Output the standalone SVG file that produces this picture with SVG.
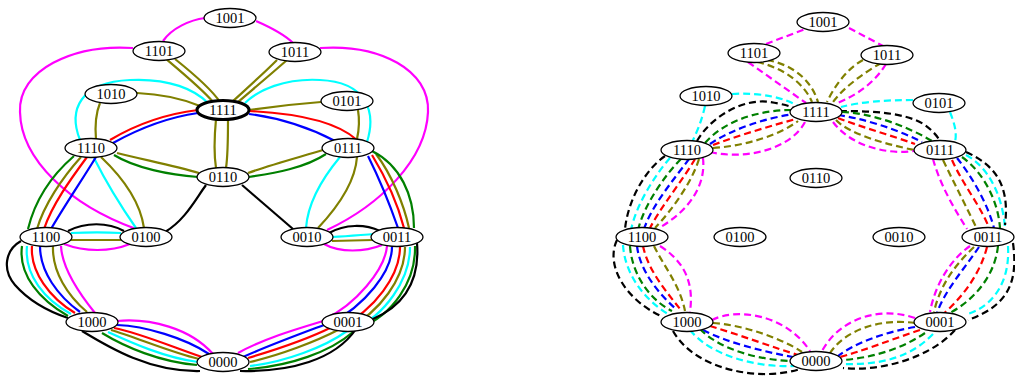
<svg xmlns="http://www.w3.org/2000/svg" width="1015" height="380" viewBox="0 0 1015 380">
<style>
.e{fill:none;stroke-width:2.2}
.d{stroke-dasharray:7,4}
.m{stroke:#ff00ff}.o{stroke:#808000}.r{stroke:#ff0000}.b{stroke:#0000ff}.g{stroke:#008000}.c{stroke:#00ffff}.k{stroke:#000000}
.n ellipse{fill:#ffffff;stroke:#000000;stroke-width:1.3}
.n text{font-family:"Liberation Serif","Times New Roman",serif;font-size:14.5px;text-anchor:middle;fill:#000000}
</style>
<rect width="1015" height="380" fill="#ffffff"/>
<g id="connectors-left" class="e">
<path class="m" d="M163,41 C172,28 190,20 205,18"/>
<path class="m" d="M256,21 C272,28 285,35 293,43"/>
<path class="m" d="M133,48 C73,44 18,70 20,112 C21,160 70,205 136,229"/>
<path class="m" d="M320,48 C380,44 430,70 428,112 C426,160 380,205 327,230"/>
<path class="m" d="M64,244 C85,252 110,252 130,244"/>
<path class="m" d="M324,244 C340,253 365,252 382,245"/>
<path class="m" d="M61,246 C62,268 78,292 95,313"/>
<path class="m" d="M117,321 C150,318 190,328 213,354"/>
<path class="m" d="M387,246 C385,270 355,305 325,319"/>
<path class="m" d="M323,321 C300,328 265,338 238,353"/>
<path class="o" d="M166,59 C185,75 203,90 213,102"/>
<path class="o" d="M175,59 C195,75 212,90 220,102"/>
<path class="o" d="M277,60 C262,75 245,90 232,102"/>
<path class="o" d="M287,60 C270,75 252,90 238,102"/>
<path class="o" d="M137,93 C160,94 183,99 200,106"/>
<path class="o" d="M321,102 C295,104 270,107 249,110"/>
<path class="o" d="M216,119 C214,140 214,155 216,168"/>
<path class="o" d="M228,119 C228,140 228,155 226,168"/>
<path class="o" d="M100,103 C95,115 95,128 96,140"/>
<path class="o" d="M358,110 C360,122 359,130 357,139"/>
<path class="o" d="M101,157 C120,175 140,200 144,228"/>
<path class="o" d="M357,157 C355,185 335,210 318,228"/>
<path class="o" d="M117,153 C145,160 175,166 199,173"/>
<path class="o" d="M323,150 C300,157 270,165 248,173"/>
<path class="g" d="M114,155 C135,168 170,175 198,177"/>
<path class="g" d="M326,154 C305,168 275,173 249,177"/>
<path class="c" d="M80,140 C68,110 80,82 130,80 C170,78 195,90 208,103"/>
<path class="c" d="M367,142 C377,110 365,82 320,80 C285,78 258,90 245,103"/>
<path class="c" d="M94,158 C105,180 120,205 136,228"/>
<path class="c" d="M340,157 C325,175 308,200 306,228"/>
<path class="r" d="M198,110 C165,114 135,125 110,140"/>
<path class="b" d="M198,113 C170,117 140,128 113,143"/>
<path class="r" d="M249,111 C290,113 335,120 357,140"/>
<path class="b" d="M249,114 C280,118 310,128 335,141"/>
<path class="g" d="M74,156 C52,175 35,200 28,229"/>
<path class="o" d="M81,157 C62,178 44,205 37,229"/>
<path class="r" d="M87,157 C70,180 52,205 44,229"/>
<path class="b" d="M96,157 C82,180 65,205 51,229"/>
<path class="b" d="M368,156 C380,180 390,205 398,228"/>
<path class="r" d="M372,155 C386,178 398,205 404,228"/>
<path class="o" d="M376,154 C392,175 404,205 409,228"/>
<path class="g" d="M372,151 C400,165 414,195 414,228"/>
<path class="k" d="M68,231 C85,222 108,222 124,231"/>
<path class="c" d="M71,233 C90,232 105,232 121,233"/>
<path class="o" d="M71,240 L121,240"/>
<path class="k" d="M329,233 C345,224 365,224 380,231"/>
<path class="c" d="M332,237 C350,236 360,235 374,234"/>
<path class="o" d="M332,241 L373,240"/>
<path class="k" d="M206,185 C195,200 185,220 165,232"/>
<path class="k" d="M242,185 L293,229"/>
<path class="k" d="M21,241 C5,250 2,270 15,285 C30,302 50,312 68,318"/>
<path class="g" d="M22,246 C18,275 40,300 68,316"/>
<path class="c" d="M27,246 C24,275 45,300 71,314"/>
<path class="r" d="M32,246 C30,272 50,298 75,313"/>
<path class="b" d="M40,246 C40,272 58,296 80,312"/>
<path class="o" d="M53,246 C52,272 68,296 87,312"/>
<path class="b" d="M117,325 C145,326 185,338 209,354"/>
<path class="r" d="M114,328 C140,333 175,348 202,357"/>
<path class="o" d="M111,330 C135,337 170,352 199,359"/>
<path class="c" d="M108,332 C130,342 165,358 198,362"/>
<path class="g" d="M102,333 C125,347 160,362 197,365"/>
<path class="k" d="M82,331 C110,348 150,372 200,371"/>
<path class="b" d="M392,247 C392,272 365,305 330,324"/>
<path class="r" d="M400,247 C400,275 375,310 340,327"/>
<path class="o" d="M405,247 C405,278 380,312 347,329"/>
<path class="c" d="M410,247 C410,280 385,315 353,330"/>
<path class="g" d="M415,246 C416,282 392,315 360,328"/>
<path class="k" d="M417,243 C420,280 405,305 373,319"/>
<path class="b" d="M324,325 C300,334 270,345 243,357"/>
<path class="r" d="M332,327 C310,338 275,350 248,358"/>
<path class="o" d="M340,329 C315,342 280,355 250,362"/>
<path class="c" d="M347,331 C325,347 285,362 250,366"/>
<path class="g" d="M353,332 C330,352 290,366 248,369"/>
<path class="k" d="M356,329 C335,360 290,372 240,371"/>
</g>
<g id="connectors-right" class="e d">
<path class="m" d="M766,44 L808,28"/>
<path class="m" d="M849,28 L883,46"/>
<path class="m" d="M748,62 L806,103"/>
<path class="m" d="M886,64 C875,82 858,95 835,104"/>
<path class="o" d="M757,62 C785,68 805,85 812,102"/>
<path class="o" d="M767,60 C795,65 812,82 818,102"/>
<path class="o" d="M863,60 C848,68 835,85 827,102"/>
<path class="o" d="M881,63 C865,72 843,88 833,102"/>
<path class="c" d="M732,94 C760,92 785,98 798,106"/>
<path class="c" d="M705,106 C702,120 697,132 692,142"/>
<path class="c" d="M913,100 C885,100 860,102 841,107"/>
<path class="c" d="M950,112 C955,125 957,133 955,142"/>
<path class="k" d="M697,141 C712,115 745,98 770,102 C782,104 790,106 794,108"/>
<path class="g" d="M705,143 C725,120 760,110 792,110"/>
<path class="b" d="M710,144 C730,130 765,118 794,114"/>
<path class="r" d="M713,145 C740,135 770,126 796,119"/>
<path class="o" d="M713,148 C745,146 780,135 798,121"/>
<path class="m" d="M710,152 C745,160 790,150 805,122"/>
<path class="k" d="M840,111 C870,111 905,112 925,125 C933,131 938,137 940,141"/>
<path class="g" d="M842,112 C870,113 905,125 932,141"/>
<path class="b" d="M838,115 C860,118 895,128 922,142"/>
<path class="r" d="M838,118 C855,125 890,135 915,144"/>
<path class="o" d="M836,120 C850,135 890,145 914,150"/>
<path class="m" d="M833,122 C850,145 885,155 914,151"/>
<path class="k" d="M665,156 C645,170 628,200 625,229"/>
<path class="c" d="M670,158 C655,175 636,205 631,230"/>
<path class="g" d="M681,159 C665,175 644,205 638,230"/>
<path class="b" d="M689,159 C675,178 652,205 644,229"/>
<path class="r" d="M695,159 C683,180 662,205 650,228"/>
<path class="o" d="M699,159 C692,182 672,210 655,228"/>
<path class="m" d="M703,158 C706,185 690,210 659,228"/>
<path class="k" d="M617,240 C605,265 625,300 663,317"/>
<path class="c" d="M623,245 C625,275 645,300 668,314"/>
<path class="g" d="M630,246 C632,275 650,300 672,311"/>
<path class="b" d="M637,246 C640,272 660,295 677,310"/>
<path class="r" d="M643,246 C648,270 665,290 680,309"/>
<path class="o" d="M654,246 C663,265 680,285 685,311"/>
<path class="m" d="M660,246 C690,265 693,290 690,312"/>
<path class="m" d="M712,320 C735,308 785,313 810,351"/>
<path class="o" d="M713,323 C745,325 785,340 802,352"/>
<path class="r" d="M710,326 C740,335 775,348 798,355"/>
<path class="b" d="M703,330 C725,342 765,352 793,357"/>
<path class="g" d="M700,329 C720,350 760,360 791,361"/>
<path class="c" d="M690,330 C710,355 755,368 796,366"/>
<path class="k" d="M673,331 C695,370 760,382 800,369"/>
<path class="m" d="M933,159 C940,185 955,210 967,229"/>
<path class="o" d="M943,160 C955,185 968,210 977,229"/>
<path class="r" d="M952,160 C963,185 982,208 989,228"/>
<path class="b" d="M957,158 C973,178 988,205 994,228"/>
<path class="g" d="M962,157 C983,172 998,200 1000,228"/>
<path class="c" d="M966,155 C985,165 1002,190 1005,228"/>
<path class="k" d="M966,152 C995,165 1010,185 1005,225"/>
<path class="m" d="M970,246 C950,260 935,285 930,312"/>
<path class="o" d="M974,247 C955,265 940,285 934,312"/>
<path class="b" d="M979,247 C965,268 945,290 937,313"/>
<path class="r" d="M987,247 C980,275 960,300 943,314"/>
<path class="g" d="M998,246 C995,275 975,300 948,314"/>
<path class="c" d="M1008,246 C1010,280 995,305 968,314"/>
<path class="k" d="M1013,243 C1018,280 1010,305 968,320"/>
<path class="m" d="M915,318 C880,306 840,318 822,351"/>
<path class="o" d="M915,323 C880,318 845,330 830,353"/>
<path class="b" d="M915,327 C885,332 855,343 838,356"/>
<path class="r" d="M920,330 C890,340 860,352 840,357"/>
<path class="g" d="M925,333 C900,350 870,358 843,360"/>
<path class="c" d="M933,334 C910,358 880,365 843,364"/>
<path class="k" d="M955,330 C930,358 880,372 843,368"/>
</g>
<g id="L1001" class="n"><ellipse cx="230" cy="18" rx="26" ry="9.5"/><text x="230" y="23">1001</text></g>
<g id="L1101" class="n"><ellipse cx="159" cy="51" rx="26" ry="9.5"/><text x="159" y="56">1101</text></g>
<g id="L1011" class="n"><ellipse cx="295" cy="52" rx="26" ry="9.5"/><text x="295" y="57">1011</text></g>
<g id="L1010" class="n"><ellipse cx="111" cy="94" rx="26" ry="9.5"/><text x="111" y="99">1010</text></g>
<g id="L1111" class="n"><ellipse cx="223" cy="110" rx="26" ry="9.5" style="stroke-width:3"/><text x="223" y="115">1111</text></g>
<g id="L0101" class="n"><ellipse cx="347" cy="101" rx="26" ry="9.5"/><text x="347" y="106">0101</text></g>
<g id="L1110" class="n"><ellipse cx="91" cy="148" rx="26" ry="9.5"/><text x="91" y="153">1110</text></g>
<g id="L0111" class="n"><ellipse cx="348" cy="148" rx="26" ry="9.5"/><text x="348" y="153">0111</text></g>
<g id="L0110" class="n"><ellipse cx="223" cy="177" rx="26" ry="9.5"/><text x="223" y="182">0110</text></g>
<g id="L1100" class="n"><ellipse cx="46" cy="237" rx="26" ry="9.5"/><text x="46" y="242">1100</text></g>
<g id="L0100" class="n"><ellipse cx="146" cy="237" rx="26" ry="9.5"/><text x="146" y="242">0100</text></g>
<g id="L0010" class="n"><ellipse cx="307" cy="237" rx="26" ry="9.5"/><text x="307" y="242">0010</text></g>
<g id="L0011" class="n"><ellipse cx="397" cy="237" rx="26" ry="9.5"/><text x="397" y="242">0011</text></g>
<g id="L1000" class="n"><ellipse cx="92" cy="322" rx="26" ry="9.5"/><text x="92" y="327">1000</text></g>
<g id="L0001" class="n"><ellipse cx="348" cy="322" rx="26" ry="9.5"/><text x="348" y="327">0001</text></g>
<g id="L0000" class="n"><ellipse cx="223" cy="362" rx="26" ry="9.5"/><text x="223" y="367">0000</text></g>
<g id="R1001" class="n"><ellipse cx="823" cy="22" rx="26" ry="9.5"/><text x="823" y="27">1001</text></g>
<g id="R1101" class="n"><ellipse cx="754" cy="53" rx="26" ry="9.5"/><text x="754" y="58">1101</text></g>
<g id="R1011" class="n"><ellipse cx="887" cy="55" rx="26" ry="9.5"/><text x="887" y="60">1011</text></g>
<g id="R1010" class="n"><ellipse cx="706" cy="96" rx="26" ry="9.5"/><text x="706" y="101">1010</text></g>
<g id="R1111" class="n"><ellipse cx="816" cy="112" rx="26" ry="9.5"/><text x="816" y="117">1111</text></g>
<g id="R0101" class="n"><ellipse cx="939" cy="103" rx="26" ry="9.5"/><text x="939" y="108">0101</text></g>
<g id="R1110" class="n"><ellipse cx="687" cy="150" rx="26" ry="9.5"/><text x="687" y="155">1110</text></g>
<g id="R0111" class="n"><ellipse cx="940" cy="150" rx="26" ry="9.5"/><text x="940" y="155">0111</text></g>
<g id="R0110" class="n"><ellipse cx="816" cy="178" rx="26" ry="9.5"/><text x="816" y="183">0110</text></g>
<g id="R1100" class="n"><ellipse cx="642" cy="237" rx="26" ry="9.5"/><text x="642" y="242">1100</text></g>
<g id="R0100" class="n"><ellipse cx="740" cy="237" rx="26" ry="9.5"/><text x="740" y="242">0100</text></g>
<g id="R0010" class="n"><ellipse cx="899" cy="237" rx="26" ry="9.5"/><text x="899" y="242">0010</text></g>
<g id="R0011" class="n"><ellipse cx="988" cy="237" rx="26" ry="9.5"/><text x="988" y="242">0011</text></g>
<g id="R1000" class="n"><ellipse cx="687" cy="322" rx="26" ry="9.5"/><text x="687" y="327">1000</text></g>
<g id="R0001" class="n"><ellipse cx="940" cy="322" rx="26" ry="9.5"/><text x="940" y="327">0001</text></g>
<g id="R0000" class="n"><ellipse cx="816" cy="361" rx="26" ry="9.5"/><text x="816" y="366">0000</text></g>
</svg>
